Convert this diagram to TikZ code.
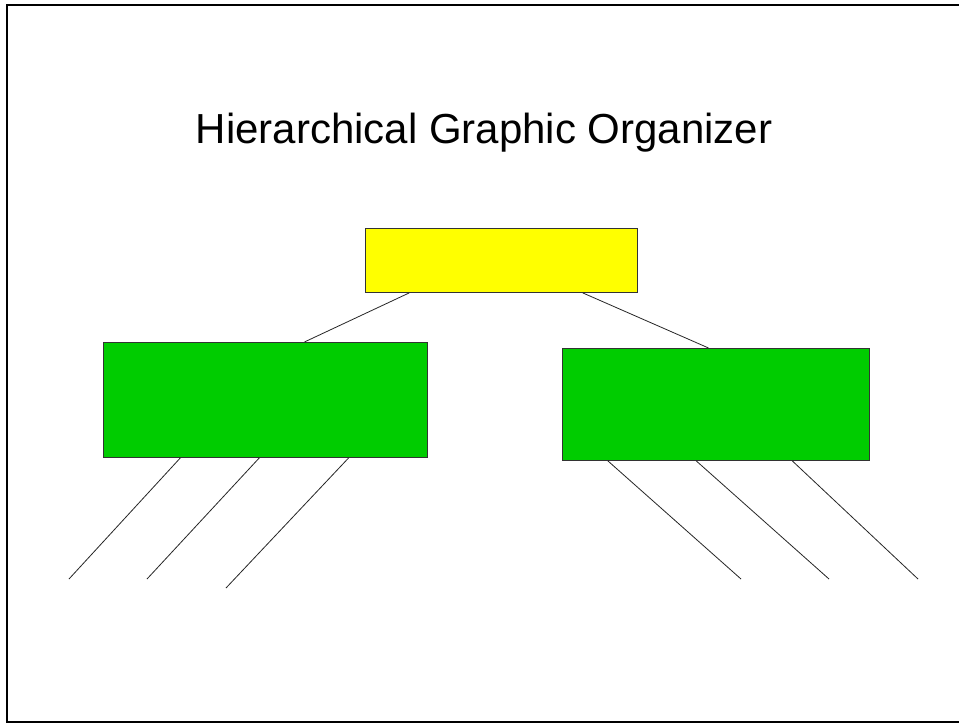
\documentclass[tikz,border=0pt]{standalone}
\usepackage{fontspec}
\setmainfont{Liberation Sans}
\usetikzlibrary{calc}
\definecolor{boxyellow}{RGB}{255,255,0}
\definecolor{boxgreen}{RGB}{0,204,0}
\begin{document}
\begin{tikzpicture}[x=1pt,y=-1pt,
  box/.style={draw=black!80, line width=0.9pt, inner sep=0pt, anchor=north west},
  topbox/.style={box, fill=boxyellow},
  subbox/.style={box, fill=boxgreen},
  link/.style={draw=black!85, line width=0.8pt}]
\useasboundingbox (0,0) rectangle (959,723);
\clip (0,0) rectangle (959,723);
\fill[white] (0,0) rectangle (959,723);
\draw[line width=2pt] (7,5) rectangle (970,721.5);
\node[anchor=base, inner sep=0pt, font=\fontsize{42}{50}\selectfont] (title) at (484,143.3) {Hierarchical Graphic Organizer};
\node[topbox, minimum width=272pt, minimum height=64pt] (top) at (365,228) {};
\node[subbox, minimum width=324pt, minimum height=115pt] (left) at (103,342) {};
\node[subbox, minimum width=307pt, minimum height=112pt] (right) at (562,348) {};
\draw[link] ($(top.south west)!0.162!(top.south east)$) -- ($(left.north west)!0.62!(left.north east)$);
\draw[link] ($(top.south west)!0.798!(top.south east)$) -- ($(right.north west)!0.476!(right.north east)$);
\coordinate (l1) at (69,579);
\coordinate (l2) at (147,579);
\coordinate (l3) at (226,588);
\coordinate (r1) at (741,579);
\coordinate (r2) at (829,579);
\coordinate (r3) at (918,579);
\draw[link] ($(left.south west)!0.238!(left.south east)$) -- (l1);
\draw[link] ($(left.south west)!0.481!(left.south east)$) -- (l2);
\draw[link] ($(left.south west)!0.756!(left.south east)$) -- (l3);
\draw[link] ($(right.south west)!0.149!(right.south east)$) -- (r1);
\draw[link] ($(right.south west)!0.436!(right.south east)$) -- (r2);
\draw[link] ($(right.south west)!0.748!(right.south east)$) -- (r3);
\end{tikzpicture}
\end{document}
